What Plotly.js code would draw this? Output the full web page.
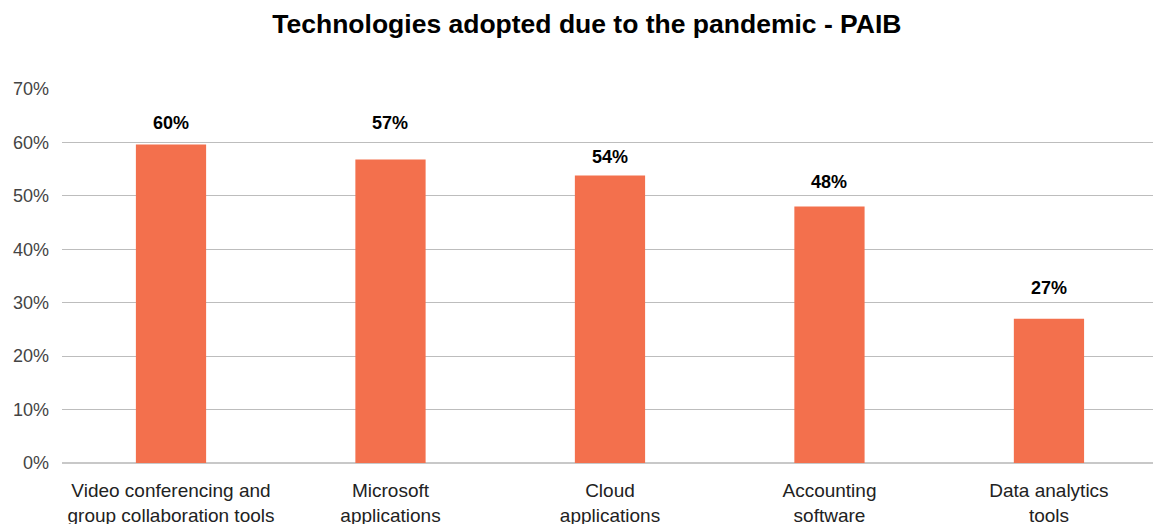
<!DOCTYPE html>
<html>
<head>
<meta charset="utf-8">
<script src="https://cdn.plot.ly/plotly-3.0.1.min.js"></script>
<style>html,body{margin:0;padding:0;background:#fff;}#chart{width:1153px;height:524px;}</style>
</head>
<body>
<div id="chart"></div>
<script>
const categories = [
  "Video conferencing and<br>group collaboration tools",
  "Microsoft<br>applications",
  "Cloud<br>applications",
  "Accounting<br>software",
  "Data analytics<br>tools"
];
const values = [59.6, 56.8, 53.8, 48.0, 27.0];
const valueLabels = ["60%", "57%", "54%", "48%", "27%"];
const yTickVals = [0, 10, 20, 30, 40, 50, 60, 70];
const yTickText = ["0%", "10%", "20%", "30%", "40%", "50%", "60%", "70%"];

const FONT = "Liberation Sans, Arial, sans-serif";
// label placement (style): pixel gap above each bar, as laid out in the original
const labelShiftPx = [22, 37, 19, 25, 31];

const trace = {
  type: "bar",
  x: categories,
  y: values,
  width: 0.32,
  marker: {color: "#F3704D"},
  hoverinfo: "none"
};

const annotations = categories.map((c, i) => ({
  x: c, y: values[i], xref: "x", yref: "y",
  text: "<b>" + valueLabels[i] + "</b>",
  showarrow: false, yanchor: "middle", yshift: labelShiftPx[i],
  font: {family: FONT, size: 18, color: "#000"}
}));

const layout = {
  width: 1153, height: 524,
  margin: {l: 62, r: 0, t: 89, b: 61},
  paper_bgcolor: "#fff", plot_bgcolor: "#fff",
  title: {text: "<b>Technologies adopted due to the pandemic - PAIB</b>",
          font: {family: FONT, size: 26.5, color: "#000"},
          x: 0.509, xanchor: "center", y: 0.955, yanchor: "middle"},
  xaxis: {
    range: [-0.4966, 4.474],
    showgrid: false, zeroline: false, showline: false,
    ticks: "", ticklabelstandoff: 14,
    tickfont: {family: FONT, size: 19, color: "#222"}
  },
  yaxis: {
    range: [0, 70], tickvals: yTickVals, ticktext: yTickText,
    showgrid: true, gridcolor: "#bdbdbd", gridwidth: 1,
    zeroline: true, zerolinecolor: "#c8c8c8", zerolinewidth: 1.5,
    showline: false, ticks: "", ticklabelstandoff: 12,
    tickfont: {family: FONT, size: 18, color: "#444"}
  },
  annotations: annotations,
  showlegend: false,
  bargap: 0.68
};

Plotly.newPlot("chart", [trace], layout, {displayModeBar: false, staticPlot: true});
</script>
</body>
</html>
